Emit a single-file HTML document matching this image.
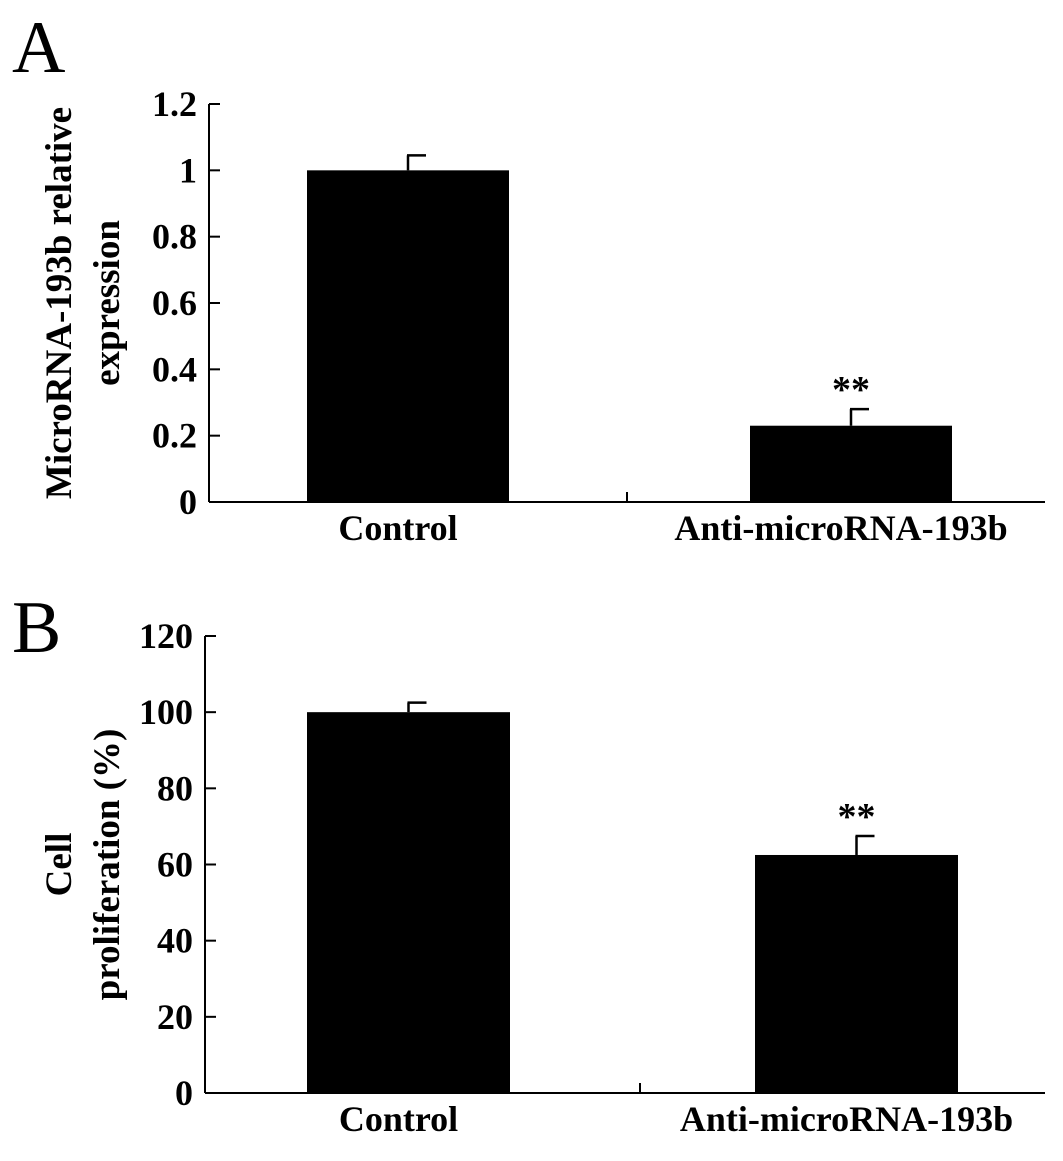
<!DOCTYPE html>
<html><head><meta charset="utf-8"><style>
body{margin:0;background:#fff}
svg text{font-family:"Liberation Serif",serif;font-weight:bold;fill:#000}
</style></head><body>
<svg id="s" width="1063" height="1156">
<text x="12" y="72" style="font-weight:normal;font-size:74px">A</text>
<text x="12" y="652" style="font-weight:normal;font-size:74px">B</text>
</svg>
<script>
const catsA=["Control","Anti-microRNA-193b"];
const valsA=[1.0,0.23];
const errA=[0.045,0.05];
const ticksA=[0,0.2,0.4,0.6,0.8,1,1.2];
const catsB=["Control","Anti-microRNA-193b"];
const valsB=[100,62.5];
const errB=[2.5,5];
const ticksB=[0,20,40,60,80,100,120];
const svg=document.getElementById('s');
const NS="http://www.w3.org/2000/svg";
function mk(t,a,txt){const e=document.createElementNS(NS,t);for(const k in a)e.setAttribute(k,a[k]);if(txt!=null)e.textContent=txt;svg.appendChild(e);return e;}
function chart(p){
  const y=v=>p.y0-(v/p.max)*(p.y0-p.ytop);
  let e=mk('line',{x1:p.ax,y1:p.ytop,x2:p.ax,y2:p.y0,stroke:'#000','stroke-width':2});
  
  
  e=mk('line',{x1:p.ax,y1:p.y0,x2:p.xend,y2:p.y0,stroke:'#000','stroke-width':2});
  
  
  e=mk('line',{x1:p.mid,y1:p.y0,x2:p.mid,y2:p.y0-10,stroke:'#000','stroke-width':2});
  
  
  p.ticks.forEach(t=>{
    e=mk('line',{x1:p.ax,y1:y(t),x2:p.ax+11,y2:y(t),stroke:'#000','stroke-width':2});
    
    
    e=mk('text',{x:p.ax-12,y:y(t)+12,'text-anchor':'end','font-size':36},String(t));
    
    
  });
  p.cats.forEach((c,i)=>{
    const x=p.bx[i],w=p.bw;
    e=mk('rect',{x:x,y:y(p.vals[i]),width:w,height:p.y0-y(p.vals[i]),fill:'#000'});
    
    
    const cx=x+w/2,ty=y(p.vals[i]+p.err[i]);
    e=mk('line',{x1:cx,y1:y(p.vals[i]),x2:cx,y2:ty,stroke:'#000','stroke-width':2.5});
    
    
    e=mk('line',{x1:cx-1,y1:ty,x2:cx+18,y2:ty,stroke:'#000','stroke-width':2.5});
    
    
    e=mk('text',{x:cx-10,y:p.y0+38,'text-anchor':'middle','font-size':36},c);
    
    
    if(i===1){
      e=mk('text',{x:cx,y:ty-7,'text-anchor':'middle','font-size':38},'**');
      
      
    }
  });
  p.title.forEach((t,j)=>{
    const tx=p.tx+j*48,ty=(p.ytop+p.y0)/2;
    e=mk('text',{x:tx,y:ty,'text-anchor':'middle','font-size':37,transform:`rotate(-90 ${tx} ${ty})`},t);
    
    
  });
}
chart({id:'chart-a',cats:catsA,vals:valsA,err:errA,ticks:ticksA,max:1.2,ax:209,ytop:104,y0:502,xend:1045,mid:627,bx:[307,750],bw:202,title:["MicroRNA-193b relative","expression"],tx:71});
chart({id:'chart-b',cats:catsB,vals:valsB,err:errB,ticks:ticksB,max:120,ax:205,ytop:636,y0:1093,xend:1045,mid:640,bx:[307,755],bw:203,title:["Cell","proliferation (%)"],tx:71});
</script>
</body></html>
